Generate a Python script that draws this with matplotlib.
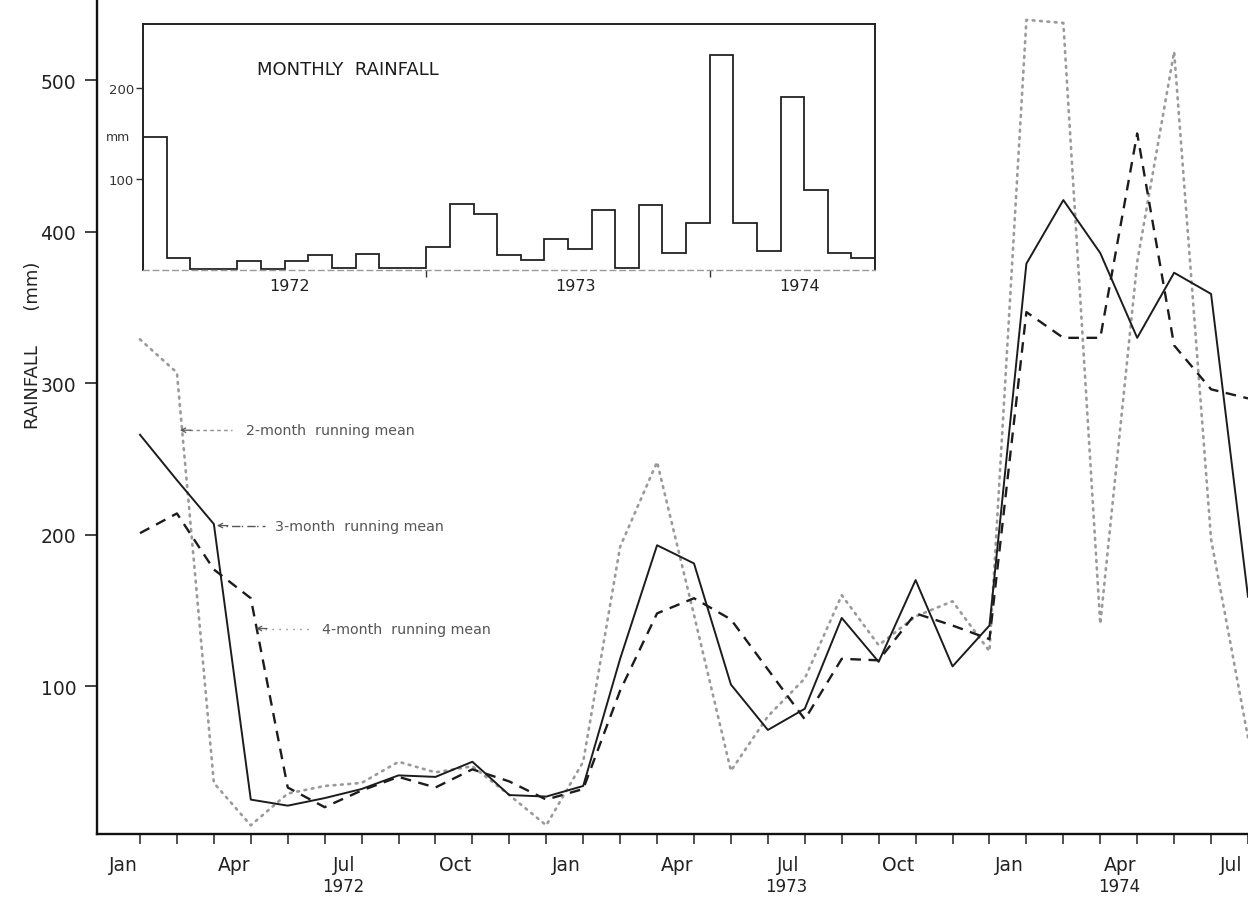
import matplotlib
matplotlib.use("Agg")
import matplotlib.pyplot as plt
import numpy as np

# Month index 0 = Jan 1972 ... 30 = Jul 1974
months = np.arange(31)

# Running means of rainfall (mm)
mean_2 = [329, 307, 36, 8, 29, 34, 36, 50, 43, 47, 28, 8,
          50, 192, 248, 147, 44, 80, 105, 160, 127, 146, 156, 123,
          540, 538, 141, 380, 519, 197, 66]
mean_3 = [266, 236, 207, 25, 21, 26, 32, 41, 40, 50, 28, 27,
          34, 118, 193, 181, 101, 71, 85, 145, 116, 170, 113, 140,
          379, 421, 386, 330, 373, 359, 159]
mean_4 = [201, 214, 177, 158, 33, 20, 31, 40, 33, 45, 37, 25,
          32, 97, 148, 158, 144, 111, 78, 118, 117, 148, 140, 131,
          347, 330, 330, 465, 325, 296, 290]

# Monthly rainfall totals (mm) for the inset histogram
monthly = [146, 13, 1, 1, 10, 1, 10, 16, 1.5, 17, 2, 1.5,
           25, 72, 61, 16, 11, 34, 23, 66, 2, 71, 18, 51,
           237, 51, 21, 190, 88, 18, 13]

month_labels = ["Jan", "Apr", "Jul", "Oct", "Jan", "Apr", "Jul", "Oct",
                "Jan", "Apr", "Jul"]
month_label_pos = [0, 3, 6, 9, 12, 15, 18, 21, 24, 27, 30]
year_labels = ["1972", "1973", "1974"]
year_label_pos = [6, 18, 27]
inset_year_pos = [6.2, 18.3, 27.8]

y_ticks = [100, 200, 300, 400, 500]
inset_y_ticks = [100, 200]

W, H = 1248, 903
fig = plt.figure(figsize=(W / 100, H / 100), dpi=100)
fig.patch.set_facecolor("white")

# ---------------- main axes ----------------
y_bottom, y_top = 2.0, 553.8
ax_h = (y_top - y_bottom) * 1.514
ax = fig.add_axes([97 / W, (H - ax_h) / H, (W - 97) / W, ax_h / H])
ax.set_xlim(-1.164, 30.0)
ax.set_ylim(y_bottom, y_top)

ink = "#1c1c1c"
ax.plot(months, mean_2, color="#9a9a9a", lw=1.9, linestyle=(0, (0.7, 2.1)),
        dash_capstyle="round", zorder=2)
ax.plot(months, mean_3, color=ink, lw=1.4, zorder=3)
ax.plot(months, mean_4, color=ink, lw=1.7, linestyle=(0, (4.5, 3.2)), zorder=3)

for side in ("top", "right"):
    ax.spines[side].set_visible(False)
for side in ("left", "bottom"):
    ax.spines[side].set_linewidth(1.7)
    ax.spines[side].set_color("#111111")

ax.set_yticks(y_ticks)
ax.set_yticklabels([str(v) for v in y_ticks])
ax.tick_params(axis="y", direction="out", length=9, width=1.2, pad=6,
               labelsize=13.5, labelcolor="#222222", color="#222222")
ax.set_xticks(months)
ax.set_xticklabels([])
ax.tick_params(axis="x", direction="out", length=7, width=1.1, color="#222222")

xt = ax.get_xaxis_transform()
for lab, pos in zip(month_labels, month_label_pos):
    ax.text(pos - 0.46, -0.036, lab, transform=xt, ha="center", va="center",
            fontsize=13.5, color="#222222", clip_on=False)
for lab, pos in zip(year_labels, year_label_pos):
    ax.text(pos - 0.5, -0.062, lab, transform=xt, ha="center", va="center",
            fontsize=12, color="#222222", clip_on=False)

fig.text(33 / W, 1 - 345 / H, "RAINFALL      (mm)", rotation=90,
         ha="center", va="center", fontsize=13, color="#222222")

# legend labels with arrows pointing at the curves
legend_items = [
    ("2-month  running mean", 1.08, 269, 2.49, 2.87, (0, (2.5, 2.5)), "#8a8a8a"),
    ("3-month  running mean", 2.08, 206, 3.38, 3.65, (0, (1, 3, 6, 1)), "#555555"),
    ("4-month  running mean", 3.14, 138, 4.60, 4.93, (0, (1, 4)), "#888888"),
]
for text, x_head, yv, x_tail, x_text, ls, col in legend_items:
    ax.plot([x_head + 0.25, x_tail], [yv, yv], color=col, lw=1.0,
            linestyle=ls, zorder=4)
    ax.annotate("", xy=(x_head, yv), xytext=(x_head + 0.3, yv),
                arrowprops=dict(arrowstyle="->", color="#555555", lw=0.9,
                                shrinkA=0, shrinkB=0, mutation_scale=8),
                zorder=4)
    ax.text(x_text, yv, text, ha="left", va="center", fontsize=10.2,
            color="#555555", zorder=4)

# ---------------- inset: monthly rainfall ----------------
axi = fig.add_axes([143 / W, (H - 270.7) / H, 732 / W, (270.7 - 25) / H])
axi.set_xlim(0, 31)
axi.set_ylim(0, 271)
axi.stairs(monthly, np.arange(32), baseline=0, fill=False,
           color="#222222", lw=1.3)
for side in ("top", "left", "right"):
    axi.spines[side].set_linewidth(1.4)
    axi.spines[side].set_color("#222222")
axi.spines["bottom"].set_color("#9a9a9a")
axi.spines["bottom"].set_linewidth(1.0)
axi.spines["bottom"].set_linestyle((0, (4, 3)))

axi.set_yticks(inset_y_ticks)
axi.set_yticklabels([str(v) for v in inset_y_ticks])
axi.tick_params(axis="y", direction="out", length=5, width=1.0, pad=1.5,
                labelsize=9.5, labelcolor="#333333", color="#333333")
axi.set_xticks([12, 24])
axi.set_xticklabels([])
axi.tick_params(axis="x", direction="out", length=5, width=1.0, color="#333333")

axi.text(-1.06, 147, "mm", ha="center", va="center", fontsize=9,
         color="#333333", clip_on=False)
axi.text(4.83, 221, "MONTHLY  RAINFALL", ha="left", va="center",
         fontsize=13, color="#1c1c1c")
xti = axi.get_xaxis_transform()
for lab, pos in zip(year_labels, inset_year_pos):
    axi.text(pos, -0.065, lab, transform=xti, ha="center", va="center",
             fontsize=11.5, color="#222222", clip_on=False)

fig.savefig("out.png", dpi=100, facecolor="white")
